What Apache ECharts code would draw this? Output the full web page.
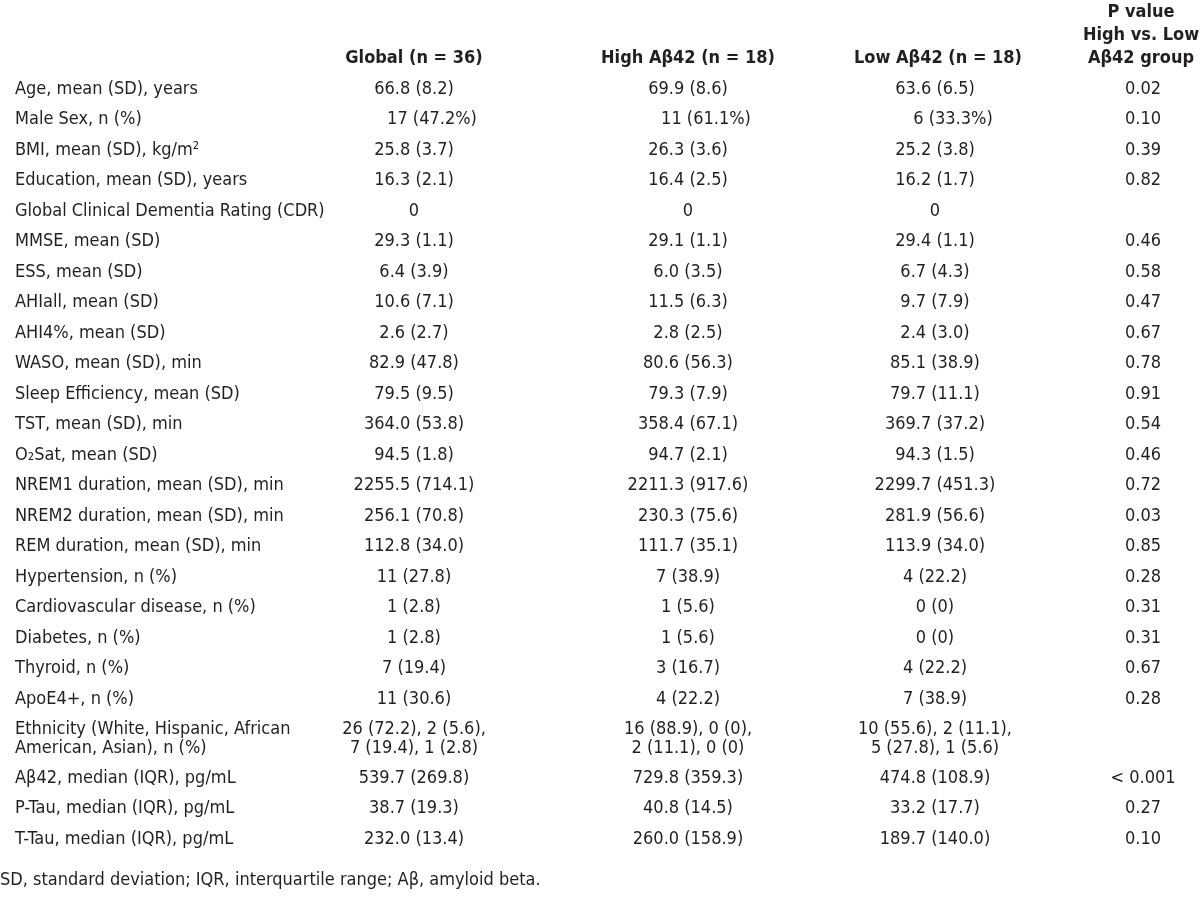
<!DOCTYPE html>
<html>
<head>
<meta charset="utf-8">
<script src="https://cdn.jsdelivr.net/npm/echarts@6/dist/echarts.min.js"></script>
<style>
html,body{margin:0;padding:0;background:#fff;}
#chart{width:1200px;height:905px;}
</style>
</head>
<body>
<div id="chart"></div>
<script>
// ---------- data ----------
const columnHeaders = ['Global (n = 36)', 'High Aβ42 (n = 18)', 'Low Aβ42 (n = 18)', 'P value\nHigh vs. Low\nAβ42 group'];

const rowLabels = [
  'Age, mean (SD), years',
  'Male Sex, n (%)',
  'BMI, mean (SD), kg/m²',
  'Education, mean (SD), years',
  'Global Clinical Dementia Rating (CDR)',
  'MMSE, mean (SD)',
  'ESS, mean (SD)',
  'AHIall, mean (SD)',
  'AHI4%, mean (SD)',
  'WASO, mean (SD), min',
  'Sleep Efficiency, mean (SD)',
  'TST, mean (SD), min',
  'O₂Sat, mean (SD)',
  'NREM1 duration, mean (SD), min',
  'NREM2 duration, mean (SD), min',
  'REM duration, mean (SD), min',
  'Hypertension, n (%)',
  'Cardiovascular disease, n (%)',
  'Diabetes, n (%)',
  'Thyroid, n (%)',
  'ApoE4+, n (%)',
  'Ethnicity (White, Hispanic, African\nAmerican, Asian), n (%)',
  'Aβ42, median (IQR), pg/mL',
  'P-Tau, median (IQR), pg/mL',
  'T-Tau, median (IQR), pg/mL'
];

const globalValues = [
  '66.8 (8.2)', '       17 (47.2%)', '25.8 (3.7)', '16.3 (2.1)', '0', '29.3 (1.1)', '6.4 (3.9)',
  '10.6 (7.1)', '2.6 (2.7)', '82.9 (47.8)', '79.5 (9.5)', '364.0 (53.8)', '94.5 (1.8)',
  '2255.5 (714.1)', '256.1 (70.8)', '112.8 (34.0)', '11 (27.8)', '1 (2.8)', '1 (2.8)',
  '7 (19.4)', '11 (30.6)', '26 (72.2), 2 (5.6),\n7 (19.4), 1 (2.8)', '539.7 (269.8)',
  '38.7 (19.3)', '232.0 (13.4)'
];

const highValues = [
  '69.9 (8.6)', '       11 (61.1%)', '26.3 (3.6)', '16.4 (2.5)', '0', '29.1 (1.1)', '6.0 (3.5)',
  '11.5 (6.3)', '2.8 (2.5)', '80.6 (56.3)', '79.3 (7.9)', '358.4 (67.1)', '94.7 (2.1)',
  '2211.3 (917.6)', '230.3 (75.6)', '111.7 (35.1)', '7 (38.9)', '1 (5.6)', '1 (5.6)',
  '3 (16.7)', '4 (22.2)', '16 (88.9), 0 (0),\n2 (11.1), 0 (0)', '729.8 (359.3)',
  '40.8 (14.5)', '260.0 (158.9)'
];

const lowValues = [
  '63.6 (6.5)', '       6 (33.3%)', '25.2 (3.8)', '16.2 (1.7)', '0', '29.4 (1.1)', '6.7 (4.3)',
  '9.7 (7.9)', '2.4 (3.0)', '85.1 (38.9)', '79.7 (11.1)', '369.7 (37.2)', '94.3 (1.5)',
  '2299.7 (451.3)', '281.9 (56.6)', '113.9 (34.0)', '4 (22.2)', '0 (0)', '0 (0)',
  '4 (22.2)', '7 (38.9)', '10 (55.6), 2 (11.1),\n5 (27.8), 1 (5.6)', '474.8 (108.9)',
  '33.2 (17.7)', '189.7 (140.0)'
];

const pValues = [
  '0.02', '0.10', '0.39', '0.82', '', '0.46', '0.58', '0.47', '0.67', '0.78', '0.91',
  '0.54', '0.46', '0.72', '0.03', '0.85', '0.28', '0.31', '0.31', '0.67', '0.28', '',
  '< 0.001', '0.27', '0.10'
];

const footnote = 'SD, standard deviation; IQR, interquartile range; Aβ, amyloid beta.';

// ---------- layout (style constants, not data) ----------
const FONT = "'Liberation Sans Narrow', 'Arial Narrow', 'DejaVu Sans Condensed', sans-serif";
const FS = 18;
const TXT = '#231f20';
const LABEL_X = 15;
const COL_X = [414, 688, 935, 1143];
const HEADER_X = [414, 688, 938, 1141];
const ROW_PX = 30.5;
const EXTRA_LINE = 0.6;   // fraction of a row added per extra text line
const FIRST_ROW_Y = 89;
const HEADER_Y = 58;

// row centers from cumulative row heights (derived from number of text lines)
const valueCols = [globalValues, highValues, lowValues, pValues];
const rowCenters = [];
let acc = 0;
rowLabels.forEach((lab, i) => {
  const lines = Math.max(lab.split('\n').length, ...valueCols.map(c => c[i].split('\n').length));
  const h = 1 + (lines - 1) * EXTRA_LINE;
  rowCenters.push(FIRST_ROW_Y + ROW_PX * (acc + h / 2 - 0.5));
  acc += h;
});

const baseLabel = {
  show: true, color: TXT, fontFamily: FONT, fontSize: FS, lineHeight: 19,
  formatter: p => p.value[2]
};
const itemStyle = { opacity: 1, color: 'transparent' };

const series = [];
// row label column (left aligned)
series.push({
  type: 'scatter', symbolSize: 0, silent: true, itemStyle,
  data: rowLabels.map((t, i) => [LABEL_X, rowCenters[i], t]),
  label: Object.assign({}, baseLabel, { position: 'right', distance: 0, align: 'left' })
});
// value columns (centered)
valueCols.forEach((col, c) => {
  series.push({
    type: 'scatter', symbolSize: 0, silent: true, itemStyle,
    data: col.map((t, i) => [COL_X[c], rowCenters[i], t]),
    label: Object.assign({}, baseLabel, { position: 'inside', align: 'center', verticalAlign: 'middle' })
  });
});
// header row
series.push({
  type: 'scatter', symbolSize: 0, silent: true, itemStyle,
  data: columnHeaders.map((t, c) => {
    const n = t.split('\n').length;
    return [HEADER_X[c], HEADER_Y - (n - 1) * 23 / 2, t];
  }),
  label: Object.assign({}, baseLabel, { position: 'inside', align: 'center', verticalAlign: 'middle', fontWeight: 'bold', lineHeight: 23 })
});

const chart = echarts.init(document.getElementById('chart'), null, { renderer: 'canvas' });
chart.setOption({
  animation: false,
  backgroundColor: '#ffffff',
  title: {
    text: footnote, left: 0, top: 871, padding: 0,
    textStyle: { color: TXT, fontFamily: FONT, fontSize: FS, fontWeight: 'normal' }
  },
  grid: { left: 0, right: 0, top: 0, bottom: 0 },
  xAxis: { type: 'value', min: 0, max: 1200, show: false },
  yAxis: { type: 'value', min: 0, max: 905, inverse: true, show: false },
  series: series
});
</script>
</body>
</html>
